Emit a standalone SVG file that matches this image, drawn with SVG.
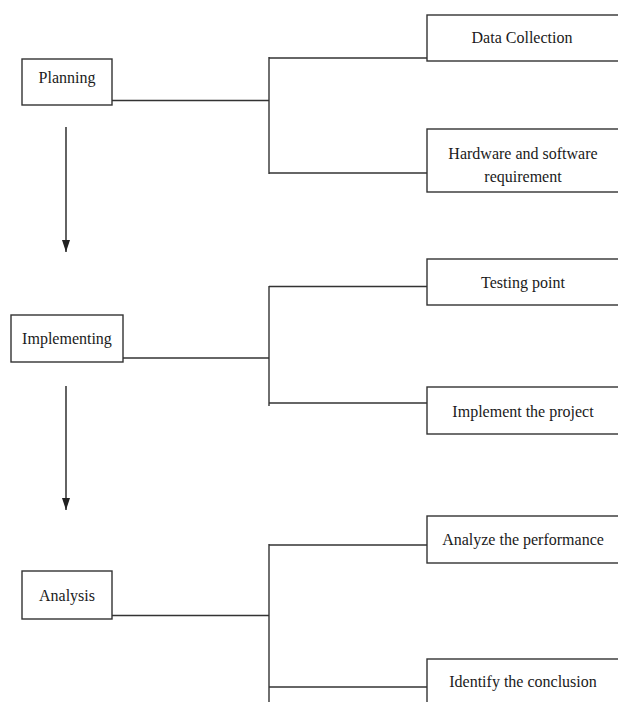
<svg xmlns="http://www.w3.org/2000/svg" width="618" height="702" viewBox="0 0 618 702">
  <style>
    .box { fill: #ffffff; stroke: #333333; stroke-width: 1.4; }
    .lbl { font-family: "Liberation Serif", "Times New Roman", serif; font-size: 16px; fill: #1a1a1a; text-anchor: middle; }
    .con { fill: none; stroke: #333333; stroke-width: 1.4; }
    .arr { fill: none; stroke: #222222; stroke-width: 1.4; marker-end: url(#ah); }
  </style>
  <defs>
    <marker id="ah" viewBox="0 0 8 12" refX="4" refY="11" markerWidth="8" markerHeight="12" markerUnits="userSpaceOnUse" orient="auto">
      <path d="M0,0 L8,6 L0,12 Z" fill="#222222" transform="rotate(0)"/>
    </marker>
  </defs>
  <rect width="618" height="702" fill="#ffffff"/>

  <g id="connectors">
    <!-- Planning bracket -->
    <path class="con" d="M112,100.5 H269"/>
    <path class="con" d="M269,57 V174"/>
    <path class="con" d="M269,58 H427"/>
    <path class="con" d="M269,173 H427"/>
    <!-- Implementing bracket -->
    <path class="con" d="M123,358 H269"/>
    <path class="con" d="M269,286 V406"/>
    <path class="con" d="M269,286.5 H427"/>
    <path class="con" d="M269,403 H427"/>
    <!-- Analysis bracket -->
    <path class="con" d="M112,615.5 H269"/>
    <path class="con" d="M269,544 V702"/>
    <path class="con" d="M269,545 H427"/>
    <path class="con" d="M269,687 H427"/>
    <!-- flow arrows -->
    <path d="M66,127 V252" fill="none" stroke="#222222" stroke-width="1.4"/>
    <path d="M62,240 L70,240 L66,252 Z" fill="#222222"/>
    <path d="M66,386 V510" fill="none" stroke="#222222" stroke-width="1.4"/>
    <path d="M62,498 L70,498 L66,510 Z" fill="#222222"/>
  </g>

  <g id="planning">
    <rect class="box" x="22" y="59" width="90" height="46"/>
    <text class="lbl" x="67" y="83">Planning</text>
  </g>
  <g id="implementing">
    <rect class="box" x="11" y="315" width="112" height="47"/>
    <text class="lbl" x="67" y="344">Implementing</text>
  </g>
  <g id="analysis">
    <rect class="box" x="22" y="571" width="90" height="48"/>
    <text class="lbl" x="67" y="601">Analysis</text>
  </g>

  <g id="data-collection">
    <rect class="box" x="427" y="15" width="200" height="46"/>
    <text class="lbl" x="522" y="43">Data Collection</text>
  </g>
  <g id="hardware-software">
    <rect class="box" x="427" y="129" width="200" height="63"/>
    <text class="lbl" x="523" y="159">Hardware and software</text>
    <text class="lbl" x="523" y="182">requirement</text>
  </g>
  <g id="testing-point">
    <rect class="box" x="427" y="259" width="200" height="46"/>
    <text class="lbl" x="523" y="288">Testing point</text>
  </g>
  <g id="implement-project">
    <rect class="box" x="427" y="387" width="200" height="47"/>
    <text class="lbl" x="523" y="417">Implement the project</text>
  </g>
  <g id="analyze-performance">
    <rect class="box" x="427" y="516" width="200" height="47"/>
    <text class="lbl" x="523" y="545">Analyze the performance</text>
  </g>
  <g id="identify-conclusion">
    <rect class="box" x="427" y="659" width="200" height="60"/>
    <text class="lbl" x="523" y="687">Identify the conclusion</text>
  </g>
</svg>
